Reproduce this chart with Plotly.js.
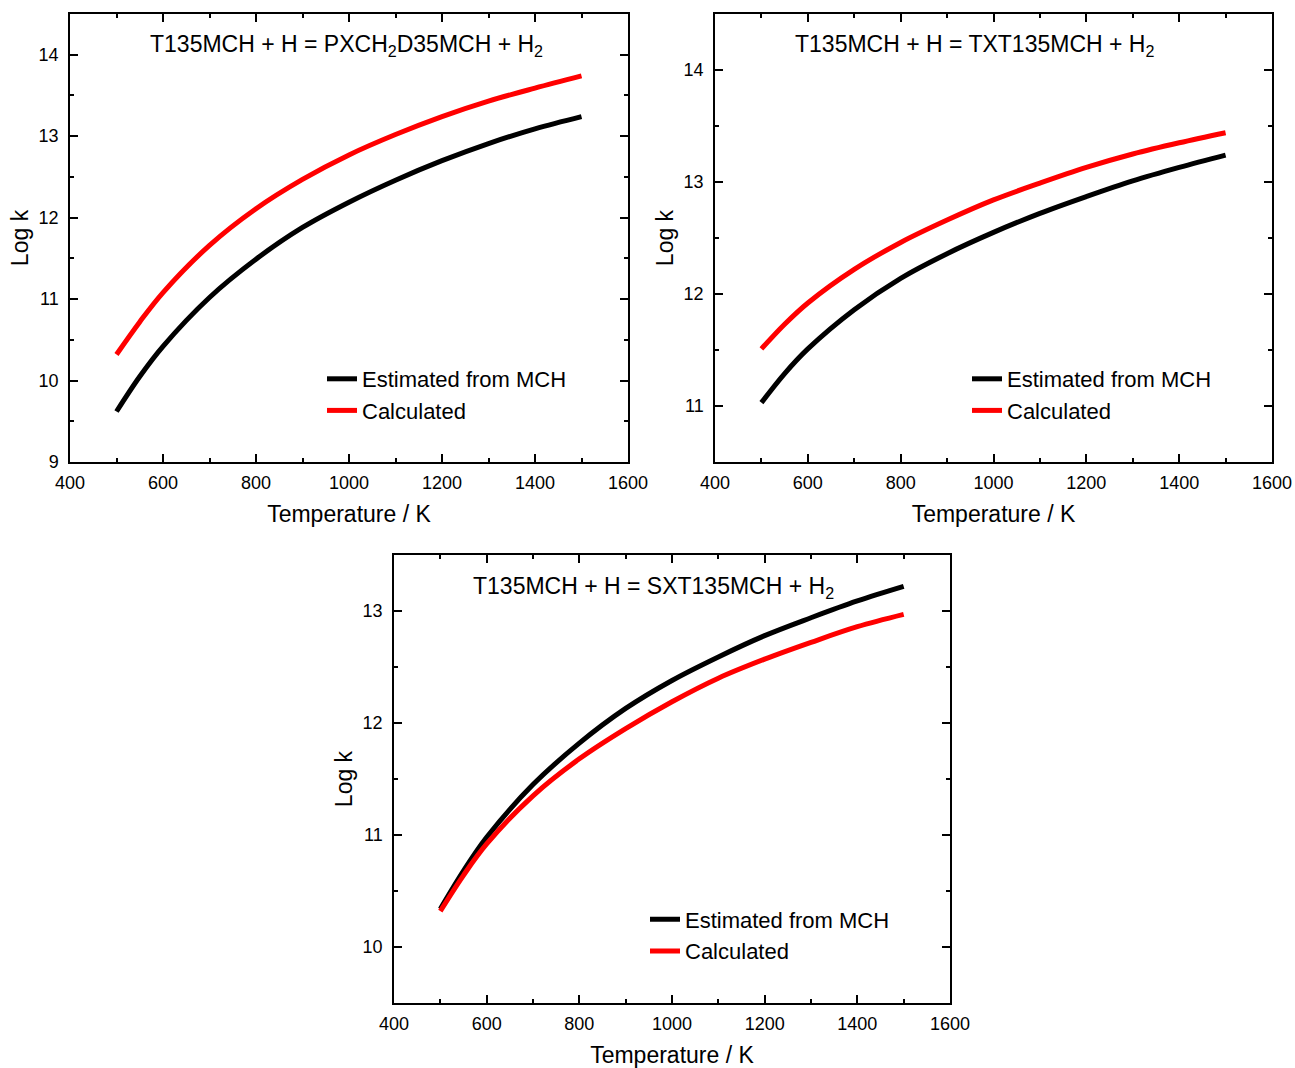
<!DOCTYPE html>
<html>
<head>
<meta charset="utf-8">
<script src="https://cdn.plot.ly/plotly-3.0.1.min.js"></script>
<style>
  html, body { margin: 0; padding: 0; background: #ffffff; }
  #chart { width: 1295px; height: 1068px; }
</style>
</head>
<body>
<div id="chart"></div>
<script>
// ---- Data ----
const temperature = [500, 550, 600, 700, 800, 900, 1000, 1100, 1200, 1300, 1400, 1500];

// Panel 1: T135MCH + H = PXCH2D35MCH + H2
const p1Estimated  = [9.62, 10.05, 10.42, 11.02, 11.49, 11.88, 12.19, 12.46, 12.70, 12.91, 13.09, 13.24];
const p1Calculated = [10.32, 10.72, 11.08, 11.66, 12.11, 12.47, 12.77, 13.02, 13.24, 13.43, 13.59, 13.74];

// Panel 2: T135MCH + H = TXT135MCH + H2
const p2Estimated  = [11.03, 11.29, 11.51, 11.86, 12.14, 12.36, 12.55, 12.72, 12.87, 13.01, 13.13, 13.24];
const p2Calculated = [11.51, 11.73, 11.92, 12.22, 12.46, 12.66, 12.84, 12.99, 13.13, 13.25, 13.35, 13.44];

// Panel 3: T135MCH + H = SXT135MCH + H2
const p3Estimated  = [10.34, 10.68, 10.98, 11.45, 11.82, 12.13, 12.38, 12.59, 12.78, 12.94, 13.09, 13.22];
const p3Calculated = [10.32, 10.64, 10.92, 11.35, 11.68, 11.95, 12.19, 12.40, 12.57, 12.72, 12.86, 12.97];

const panelTitles = [
  'T135MCH + H = PXCH<sub>2</sub>D35MCH + H<sub>2</sub>',
  'T135MCH + H = TXT135MCH + H<sub>2</sub>',
  'T135MCH + H = SXT135MCH + H<sub>2</sub>'
];
const seriesNames = ['Estimated from MCH', 'Calculated'];
const xTitle = 'Temperature / K';
const yTitle = 'Log k';
const yRanges = [[9, 14.5], [10.5, 14.5], [9.5, 13.5]];
const xRange = [400, 1600];

// ---- Styling ----
const FONT = 'Liberation Sans, Arial, Helvetica, sans-serif';
const colors = ['#000000', '#ff0000'];

function mkTrace(y, idx, panel) {
  const suffix = panel === 1 ? '' : String(panel);
  return {
    type: 'scatter', mode: 'lines',
    x: temperature, y: y,
    name: seriesNames[idx],
    xaxis: 'x' + suffix, yaxis: 'y' + suffix,
    legend: panel === 1 ? 'legend' : 'legend' + panel,
    line: { color: colors[idx], width: 5, shape: 'spline', smoothing: 1 },
    hoverinfo: 'x+y+name'
  };
}

const data = [
  mkTrace(p1Estimated, 0, 1), mkTrace(p1Calculated, 1, 1),
  mkTrace(p2Estimated, 0, 2), mkTrace(p2Calculated, 1, 2),
  mkTrace(p3Estimated, 0, 3), mkTrace(p3Calculated, 1, 3)
];

const W = 1295, H = 1068;
function px2x(p) { return p / W; }
function px2y(p) { return 1 - p / H; }

function xAxis(domain, anchor) {
  return {
    domain: domain, anchor: anchor, range: xRange, dtick: 200, tick0: 400,
    ticks: 'inside', ticklen: 8, tickwidth: 1.5, tickcolor: '#000',
    minor: { ticks: 'inside', ticklen: 4, tickwidth: 1.5, tickcolor: '#000', dtick: 100, tick0: 400, showgrid: false },
    showline: true, linecolor: '#000', linewidth: 1.5, mirror: 'ticks',
    showgrid: false, zeroline: false,
    tickfont: { family: FONT, size: 18, color: '#000' },
    ticklabelstandoff: 4,
    title: { text: xTitle, font: { family: FONT, size: 23, color: '#000' }, standoff: 14 },
    automargin: false
  };
}
function yAxis(domain, anchor, range) {
  return {
    domain: domain, anchor: anchor, range: range, dtick: 1,
    ticks: 'inside', ticklen: 8, tickwidth: 1.5, tickcolor: '#000',
    minor: { ticks: 'inside', ticklen: 4, tickwidth: 1.5, tickcolor: '#000', dtick: 0.5, showgrid: false },
    showline: true, linecolor: '#000', linewidth: 1.5, mirror: 'ticks',
    showgrid: false, zeroline: false,
    tickfont: { family: FONT, size: 18, color: '#000' },
    ticklabelstandoff: 6,
    title: { text: yTitle, font: { family: FONT, size: 23, color: '#000' }, standoff: 4 },
    automargin: false
  };
}

const topDom = [px2y(462), px2y(14)];
const botDom = [px2y(1003), px2y(555)];

function legendAt(xpx, ypx) {
  return {
    x: px2x(xpx), y: px2y(ypx), xanchor: 'left', yanchor: 'middle',
    xref: 'paper', yref: 'paper',
    bgcolor: 'rgba(0,0,0,0)', borderwidth: 0,
    font: { family: FONT, size: 22, color: '#000' },
    itemwidth: 30, tracegroupgap: 0
  };
}

function titleAnn(text, xpx, ypx) {
  return {
    text: text, xref: 'paper', yref: 'paper', x: px2x(xpx), y: px2y(ypx),
    xanchor: 'center', yanchor: 'middle', showarrow: false,
    font: { family: FONT, size: 23, color: '#000' }
  };
}

const layout = {
  width: W, height: H,
  margin: { l: 0, r: 0, t: 0, b: 0 },
  paper_bgcolor: '#ffffff', plot_bgcolor: '#ffffff',
  font: { family: FONT, color: '#000' },
  showlegend: true,
  xaxis:  xAxis([px2x(70),  px2x(628)],  'y'),
  yaxis:  yAxis(topDom, 'x', yRanges[0]),
  xaxis2: xAxis([px2x(715), px2x(1272)], 'y2'),
  yaxis2: yAxis(topDom, 'x2', yRanges[1]),
  xaxis3: xAxis([px2x(394), px2x(950)],  'y3'),
  yaxis3: yAxis(botDom, 'x3', yRanges[2]),
  legend:  legendAt(322, 395),
  legend2: legendAt(967, 395),
  legend3: legendAt(645, 935.5),
  annotations: [
    titleAnn(panelTitles[0], 347, 46),
    titleAnn(panelTitles[1], 974, 46),
    titleAnn(panelTitles[2], 653, 587)
  ]
};

Plotly.newPlot('chart', data, layout, { displayModeBar: false });
</script>
</body>
</html>
